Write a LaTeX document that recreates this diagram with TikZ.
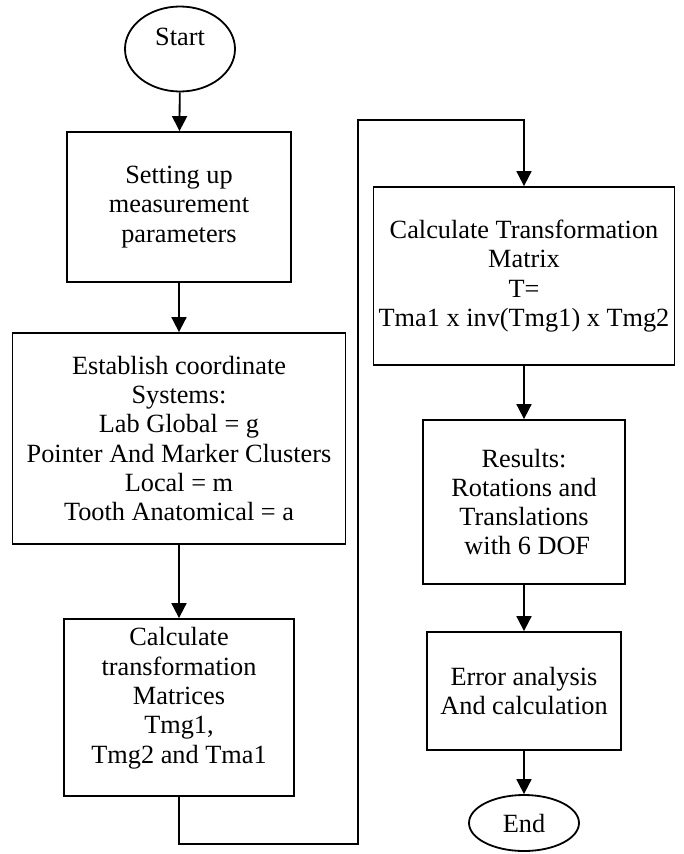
\documentclass[tikz,border=0pt]{standalone}
\usepackage{fontspec}
\setmainfont{Liberation Serif}
\usetikzlibrary{arrows.meta,shapes.geometric}

\begin{document}
\begin{tikzpicture}[x=1pt,y=-1pt,
  box/.style={draw,line width=1.8pt,align=center,inner sep=0pt,font=\fontsize{26.3}{29.3}\selectfont},
  oval/.style={ellipse,draw,line width=1.8pt,inner sep=0pt,font=\fontsize{26.3}{29.3}\selectfont},
  arr/.style={line width=1.8pt,-{Triangle[width=15pt,length=15pt]}}]
  \useasboundingbox (0,0) rectangle (683,854);

  \node[oval,minimum width=110pt,minimum height=85pt,text depth=24pt] (start) at (180,49) {Start};
  \node[box,minimum width=224pt,minimum height=150pt] (setup) at (179,207) {Setting up\\measurement\\parameters};
  \node[box,minimum width=333pt,minimum height=211pt] (coords) at (179,438.5) {Establish coordinate\\Systems:\\Lab Global = g\\Pointer And Marker Clusters\\Local = m\\Tooth Anatomical = a};
  \node[box,minimum width=230pt,minimum height=177pt] (calcm) at (179,707.5) {Calculate\\transformation\\Matrices\\Tmg1,\\Tmg2 and Tma1\\[-5pt]\mbox{}};

  \node[box,minimum width=301pt,minimum height=178pt] (calct) at (524,276) {Calculate Transformation\\Matrix\\T=\\Tma1 x inv(Tmg1) x Tmg2};
  \node[box,minimum width=202pt,minimum height=164pt] (results) at (524,502) {Results:\\Rotations and\\Translations\\\ with 6 DOF};
  \node[box,minimum width=194pt,minimum height=118pt] (error) at (524,691) {Error analysis\\And calculation};
  \node[oval,minimum width=110pt,minimum height=56pt] (end) at (524,823) {End};

  \coordinate (lowturn) at (358,844);
  \coordinate (highturn) at (358,120);

  \draw[arr] (start) -- (setup);
  \draw[arr] (setup) -- (coords);
  \draw[arr] (coords) -- (calcm);
  \draw[arr] (calcm.south) |- (lowturn) -- (highturn) -| (calct.north);
  \draw[arr] (calct) -- (results);
  \draw[arr] (results) -- (error);
  \draw[arr] (error) -- (end);

\end{tikzpicture}
\end{document}
